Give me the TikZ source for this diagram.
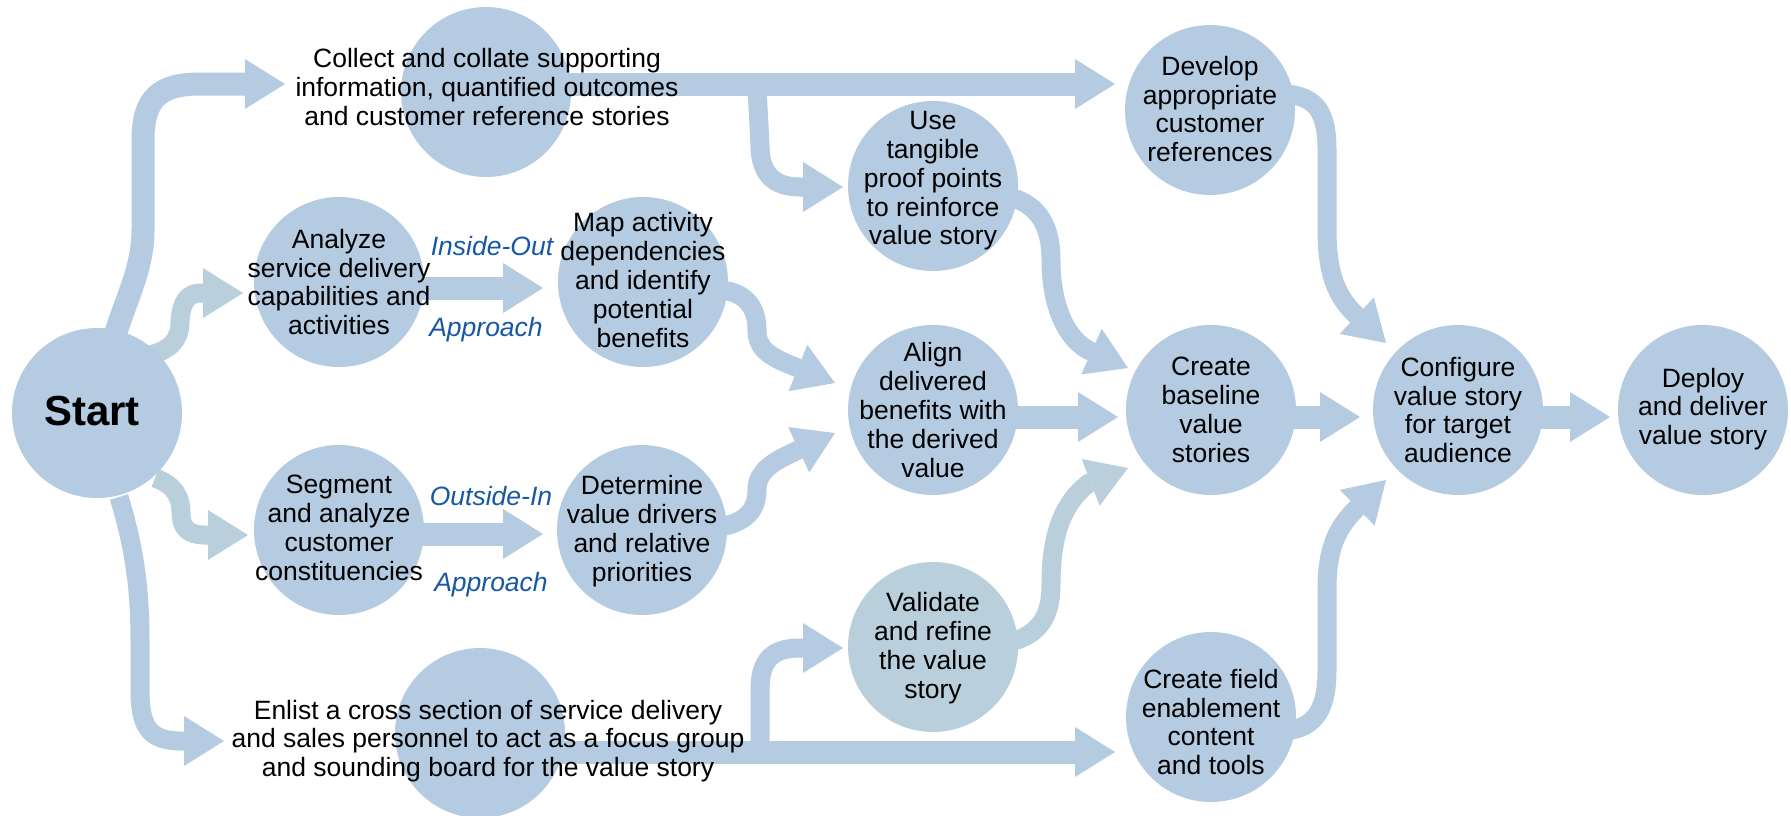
\documentclass[tikz,border=0pt]{standalone}
\usepackage{fontspec}
\setmainfont{Liberation Sans}
\usetikzlibrary{arrows.meta}
\definecolor{flowblue}{RGB}{180,203,225}
\definecolor{flowgrey}{RGB}{185,207,220}
\definecolor{labelblue}{RGB}{22,88,165}
\pgfdeclarelayer{bg}
\pgfsetlayers{bg,main}
\begin{document}
\begin{tikzpicture}[x=1pt,y=-1pt,
  stage/.style={circle,fill=#1,minimum size=170pt,inner sep=0pt},
  stage/.default=flowblue,
  txt/.style={align=center,font=\fontsize{26.5}{28.8}\selectfont,text=black},
  approach/.style={font=\fontsize{26.5}{28.8}\selectfont\itshape,text=labelblue,anchor=base},
  flow/.style={draw=#1,line width=23pt,line join=round,
    -{Triangle[width=50pt,length=40pt,line width=0pt]}},
  flow/.default=flowblue,
  curvy/.style={flow=#1,line width=19pt},
  curvy/.default=flowblue]
\useasboundingbox (0,0) rectangle (1791,815);

% stages
\node[stage] (start) at (97,413) {};
\node[stage] (collect) at (486,92) {};
\node[stage] (analyze) at (339,282) {};
\node[stage] (segment) at (339,530) {};
\node[stage] (enlist) at (480,733) {};
\node[stage] (map) at (643,282) {};
\node[stage] (determine) at (642,530) {};
\node[stage] (use) at (933,186) {};
\node[stage] (align) at (933,410) {};
\node[stage=flowgrey] (validate) at (933,647) {};
\node[stage] (develop) at (1210,110) {};
\node[stage] (baseline) at (1211,410) {};
\node[stage] (field) at (1211,717) {};
\node[stage] (configure) at (1458,410) {};
\node[stage] (deploy) at (1703,410) {};

% branch points on the long horizontal flows
\coordinate (split1) at (757,88);
\coordinate (split2) at (760,752);

\begin{pgfonlayer}{bg}
% from Start
\draw[flow] ([shift={(15,-68)}]start.center) .. controls (125,300) and (143,270) .. (143,230)
  -- (143,140) .. controls (143,98) and (160,84) .. (200,84) -- ([shift={(-201,-8)}]collect.center);
\draw[curvy=flowgrey] ([shift={(53,-58)}]start.center) .. controls (170,350) and (180,340) .. (180,322)
  .. controls (181,302) and (188,293) .. (200,293) -- ([shift={(-96,11)}]analyze.center);
\draw[curvy=flowgrey] ([shift={(58,65)}]start.center) .. controls (175,485) and (181,498) .. (181,512)
  .. controls (181,528) and (188,535) .. (205,535) -- ([shift={(-91,5)}]segment.center);
\draw[curvy] ([shift={(22,84)}]start.center) .. controls (132,540) and (140,580) .. (140,640)
  -- (140,690) .. controls (140,728) and (150,741) .. (182,741) -- ([shift={(-256,8)}]enlist.center);

% top flow
\draw[flow] ([shift={(50,-8)}]collect.center) -- ([shift={(-95,-26)}]develop.center);
\draw[curvy] (split1) -- (760,145) .. controls (760,175) and (775,187) .. (800,187)
  -- ([shift={(-90,1)}]use.center);

% bottom flow
\draw[flow] ([shift={(40,19)}]enlist.center) -- ([shift={(-96,35)}]field.center);
\draw[curvy] (split2) -- (760,690) .. controls (760,660) and (772,648) .. (800,648)
  -- ([shift={(-90,1)}]validate.center);

% approaches
\draw[flow] ([shift={(40,6)}]analyze.center) -- ([shift={(-100,6)}]map.center);
\draw[flow] ([shift={(40,4)}]segment.center) -- ([shift={(-99,4)}]determine.center);

% into Align
\draw[curvy] ([shift={(77,8)}]map.center) .. controls (748,292) and (757,310) .. (757,330)
  .. controls (757,348) and (768,356) .. (793,366) -- ([shift={(-98,-27)}]align.center);
\draw[curvy] ([shift={(78,-3)}]determine.center) .. controls (748,522) and (757,508) .. (757,490)
  .. controls (757,470) and (775,461) .. (794,452) -- ([shift={(-98,23)}]align.center);

% into Create baseline
\draw[curvy] ([shift={(77,11)}]use.center) .. controls (1040,205) and (1051,228) .. (1051,260)
  .. controls (1051,300) and (1063,336) .. (1088,350) -- ([shift={(-83,-42)}]baseline.center);
\draw[flow] ([shift={(40,7)}]align.center) -- ([shift={(-93,7)}]baseline.center);
\draw[curvy=flowgrey] ([shift={(77,-5)}]validate.center) .. controls (1040,635) and (1051,615) .. (1051,585)
  .. controls (1051,540) and (1060,505) .. (1089,483) -- ([shift={(-83,58)}]baseline.center);

% into Configure
\draw[curvy] ([shift={(75,-16)}]develop.center) .. controls (1318,96) and (1327,115) .. (1327,150)
  -- (1327,230) .. controls (1327,270) and (1335,295) .. (1355,314) -- ([shift={(-72,-67)}]configure.center);
\draw[flow] ([shift={(40,7)}]baseline.center) -- ([shift={(-98,7)}]configure.center);
\draw[curvy] ([shift={(74,14)}]field.center) .. controls (1318,728) and (1327,705) .. (1327,670)
  -- (1327,590) .. controls (1327,552) and (1335,530) .. (1355,510) -- ([shift={(-72,70)}]configure.center);

% into Deploy
\draw[flow] ([shift={(40,7)}]configure.center) -- ([shift={(-93,7)}]deploy.center);
\end{pgfonlayer}

% texts
\node[font=\fontsize{42}{48}\selectfont\bfseries] (startT) at (92,411) {Start};
\node[txt] (collectT) at (487,87) {Collect and collate supporting\\information, quantified outcomes\\and customer reference stories};
\node[txt] (analyzeT) at (339,282) {Analyze\\service delivery\\capabilities and\\activities};
\node[txt] (segmentT) at (339,528) {Segment\\and analyze\\customer\\constituencies};
\node[txt] (enlistT) at (488,741) {Enlist a cross section of service delivery\\and sales personnel to act as a focus group\\and sounding board for the value story};
\node[txt] (mapT) at (643,280) {Map activity\\dependencies\\and identify\\potential\\benefits};
\node[txt] (determineT) at (642,531) {Determine\\value drivers\\and relative\\priorities};
\node[txt] (useT) at (933,181) {Use\\tangible\\proof points\\to reinforce\\value story};
\node[txt] (alignT) at (933,410) {Align\\delivered\\benefits with\\the derived\\value};
\node[txt] (validateT) at (933,648) {Validate\\and refine\\the value\\story};
\node[txt] (developT) at (1210,109) {Develop\\appropriate\\customer\\references};
\node[txt] (baselineT) at (1211,410) {Create\\baseline\\value\\stories};
\node[txt] (fieldT) at (1211,722) {Create field\\enablement\\content\\and tools};
\node[txt] (configureT) at (1458,410) {Configure\\value story\\for target\\audience};
\node[txt] (deployT) at (1703,409) {Deploy\\and deliver\\value story};

\node[approach] (insideout) at (492,255) {Inside-Out};
\node[approach] (approachA) at (486,336) {Approach};
\node[approach] (outsidein) at (491,505) {Outside-In};
\node[approach] (approachB) at (491,591) {Approach};
\end{tikzpicture}
\end{document}
